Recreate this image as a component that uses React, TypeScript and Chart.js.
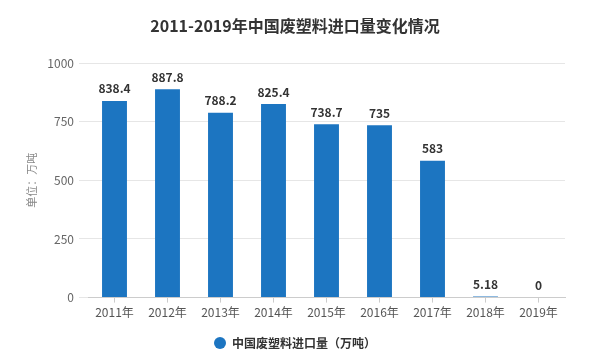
import React, { useEffect, useRef } from 'react';
import { Chart, registerables } from 'chart.js';

Chart.register(...registerables);

const years = ['2011年', '2012年', '2013年', '2014年', '2015年', '2016年', '2017年', '2018年', '2019年'];
const imports = [838.4, 887.8, 788.2, 825.4, 738.7, 735, 583, 5.18, 0];
const valueLabels = ['838.4', '887.8', '788.2', '825.4', '738.7', '735', '583', '5.18', '0'];
const yMin = 0;
const yMax = 1000;
const yStep = 250;

const FONT = '"Noto Sans CJK SC", "Noto Sans", sans-serif';

const dataLabelPlugin = {
  id: 'dataLabels',
  afterDatasetsDraw(chart: any) {
    const ctx = chart.ctx;
    const meta = chart.getDatasetMeta(0);
    ctx.save();
    ctx.font = `bold 12px ${FONT}`;
    ctx.fillStyle = '#333333';
    ctx.textAlign = 'center';
    ctx.textBaseline = 'middle';
    meta.data.forEach((el: any, i: number) => {
      ctx.fillText(valueLabels[i], el.x, el.y - 12);
    });
    ctx.restore();
  },
};

export default function App() {
  const ref = useRef<HTMLCanvasElement | null>(null);

  useEffect(() => {
    document.body.style.margin = '0';
    const canvas = ref.current;
    if (!canvas) return;
    const chart = new Chart(canvas, {
      type: 'bar',
      data: {
        labels: years,
        datasets: [
          {
            label: '中国废塑料进口量（万吨）',
            data: imports,
            backgroundColor: '#1c75c1',
            borderWidth: 0,
            categoryPercentage: 1,
            barPercentage: 0.47,
          },
        ],
      },
      options: {
        responsive: false,
        animation: false,
        layout: { padding: { top: 0, left: 25, right: 43, bottom: 1 } },
        plugins: {
          title: {
            display: true,
            text: '2011-2019年中国废塑料进口量变化情况',
            color: '#333333',
            font: { family: FONT, size: 16, weight: 'bold' },
            padding: { top: 16, bottom: 27.8 },
          },
          legend: {
            display: true,
            position: 'bottom',
            labels: {
              usePointStyle: true,
              pointStyle: 'circle',
              boxHeight: 8.5,
              pointStyleWidth: 12,
              color: '#333333',
              font: { family: FONT, size: 12, weight: 'bold' },
              padding: 14,
            },
          },
          tooltip: { enabled: false },
        },
        scales: {
          x: {
            grid: { drawOnChartArea: false, offset: false, tickLength: 5, color: '#cccccc' },
            border: { color: '#cccccc' },
            ticks: { color: '#555555', font: { family: FONT, size: 12 }, padding: 3, maxRotation: 0 },
          },
          y: {
            min: yMin,
            max: yMax,
            afterFit: (scale: any) => {
              scale.width = 63;
            },
            ticks: {
              stepSize: yStep,
              color: '#666666',
              font: { family: FONT, size: 12 },
              padding: 5,
              callback: (v: any) => String(v),
            },
            grid: { color: '#e6e6e6', tickLength: 9 },
            border: { display: false },
            title: {
              display: true,
              text: '单位：万吨',
              color: '#888888',
              font: { family: FONT, size: 11 },
              padding: { top: 0, bottom: 0 },
            },
          },
        },
      },
      plugins: [dataLabelPlugin],
    });
    return () => chart.destroy();
  }, []);

  return (
    <div style={{ width: 608, height: 360, background: '#ffffff' }}>
      <canvas ref={ref} width={608} height={360} style={{ display: 'block' }} />
    </div>
  );
}
